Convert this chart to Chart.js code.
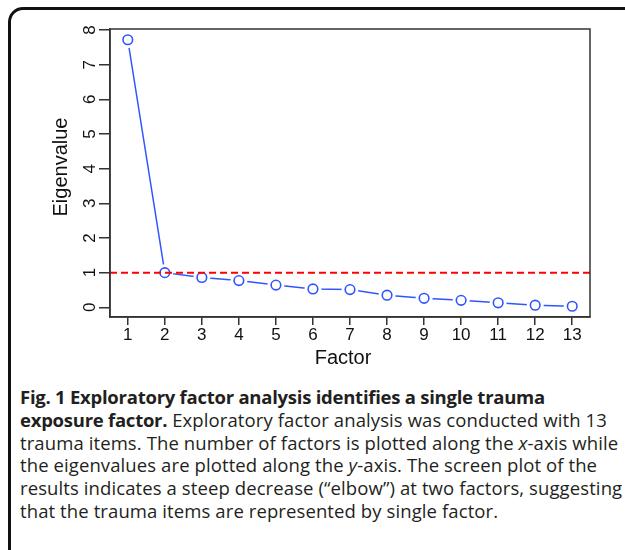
<!DOCTYPE html>
<html lang="en">
<head>
    <meta charset="UTF-8">
    <title>Scree plot</title>
    <script src="https://cdn.jsdelivr.net/npm/chart.js@4.4.1/dist/chart.umd.min.js"></script>
</head>
<style>
body{
    margin:0;
    background:#fff;
}
.frame{
    position:absolute;
    left:8px;
    top:7px;
    width:650px;
    height:580px;
    border:3px solid #111;
    border-radius:15px;
}
#scree{
    position:absolute;
    left:0;
    top:0;
}
.caption{
    position:absolute;
    left:20px;
    top:386px;
    font-family:"Open Sans", sans-serif;
    font-size:18.5px;
    line-height:22.8px;
    color:#231f20;
    white-space:nowrap;
    letter-spacing:0.1px;
}
.caption b{
    font-weight:700;
    letter-spacing:-0.25px;
}
</style>
<body>

<div class="frame"></div>
<canvas id="scree" width="625" height="375"></canvas>

<div class="caption">
<b>Fig. 1 Exploratory factor analysis identifies a single trauma</b><br>
<b>exposure factor.</b> Exploratory factor analysis was conducted with 13<br>
trauma items. The number of factors is plotted along the <i>x</i>-axis while<br>
the eigenvalues are plotted along the <i>y</i>-axis. The screen plot of the<br>
results indicates a steep decrease (“elbow”) at two factors, suggesting<br>
that the trauma items are represented by single factor.
</div>

<script>
const factors = [1, 2, 3, 4, 5, 6, 7, 8, 9, 10, 11, 12, 13]
const eigenvalues = [7.72, 1.00, 0.86, 0.77, 0.64, 0.53, 0.51, 0.35, 0.26, 0.20, 0.13, 0.06, 0.03]
const yTicks = [0, 1, 2, 3, 4, 5, 6, 7, 8]
const cutoff = 1
const xTitle = 'Factor'
const yTitle = 'Eigenvalue'

const blue = '#2f55ff'
const axisColor = '#333'
const family = '"Liberation Sans", Arial, sans-serif'
const tickFont = { family: family, size: 17 }
const titleFont = { family: family, size: 20 }

const points = factors.map((f, i) => ({ x: f, y: eigenvalues[i] }))

function rotatedText(ctx, text, x, y) {
  ctx.save()
  ctx.translate(x, y)
  ctx.rotate(-Math.PI / 2)
  ctx.fillText(text, 0, 0)
  ctx.restore()
}

// box round the plot, the dashed cutoff line, rotated y labels and axis titles
const extras = {
  id: 'extras',
  afterDatasetsDraw(chart) {
    const { ctx, chartArea: a, scales } = chart
    const yc = scales.y.getPixelForValue(cutoff)
    ctx.save()
    ctx.strokeStyle = '#ff0000'
    ctx.lineWidth = 2
    ctx.setLineDash([7, 4])
    ctx.beginPath()
    ctx.moveTo(a.left, yc)
    ctx.lineTo(a.right, yc)
    ctx.stroke()
    ctx.restore()
  },
  afterDraw(chart) {
    const { ctx, chartArea: a, scales } = chart
    ctx.save()
    ctx.strokeStyle = axisColor
    ctx.lineWidth = 1.5
    ctx.strokeRect(a.left, a.top, a.right - a.left, a.bottom - a.top)

    ctx.fillStyle = '#111'
    ctx.textAlign = 'center'
    ctx.textBaseline = 'middle'
    ctx.font = Chart.helpers.toFont(tickFont).string
    for (const v of yTicks) {
      rotatedText(ctx, String(v), 90.5, scales.y.getPixelForValue(v))
    }

    ctx.font = Chart.helpers.toFont(titleFont).string
    rotatedText(ctx, yTitle, 61, 167)
    ctx.fillText(xTitle, 343, 358)
    ctx.restore()
  }
}

new Chart(document.getElementById('scree'), {
  type: 'line',
  data: {
    datasets: [
      {
        // circles
        data: points,
        showLine: false,
        pointRadius: 4.8,
        pointBorderWidth: 1.6,
        pointBorderColor: blue,
        pointBackgroundColor: 'rgba(0,0,0,0)',
        order: 1
      },
      {
        // connecting line, white discs leave the gaps round the circles
        data: points,
        borderColor: blue,
        borderWidth: 1.5,
        pointRadius: 8.5,
        pointBorderWidth: 0,
        pointBackgroundColor: '#fff',
        order: 2
      }
    ]
  },
  options: {
    responsive: false,
    animation: false,
    layout: { padding: { left: 0, top: 29, right: 35, bottom: 0 } },
    plugins: {
      legend: { display: false },
      tooltip: { enabled: false }
    },
    scales: {
      x: {
        type: 'linear',
        min: 0.52,
        max: 13.48,
        afterBuildTicks: s => { s.ticks = factors.map(v => ({ value: v })) },
        afterFit: s => { s.height = 58 },
        grid: { drawOnChartArea: false, tickLength: 8, color: axisColor, lineWidth: 1.5 },
        border: { display: true, color: axisColor, width: 1.5 },
        ticks: { font: tickFont, color: '#111', padding: 0, maxRotation: 0 },
        title: { display: false }
      },
      y: {
        min: -0.28,
        max: 8.03,
        afterBuildTicks: s => { s.ticks = yTicks.map(v => ({ value: v })) },
        afterFit: s => { s.width = 110 },
        grid: { drawOnChartArea: false, tickLength: 11, color: axisColor, lineWidth: 1.5 },
        border: { display: true, color: axisColor, width: 1.5 },
        ticks: { display: false },
        title: { display: false }
      }
    }
  },
  plugins: [extras]
})
</script>
</body>
</html>
